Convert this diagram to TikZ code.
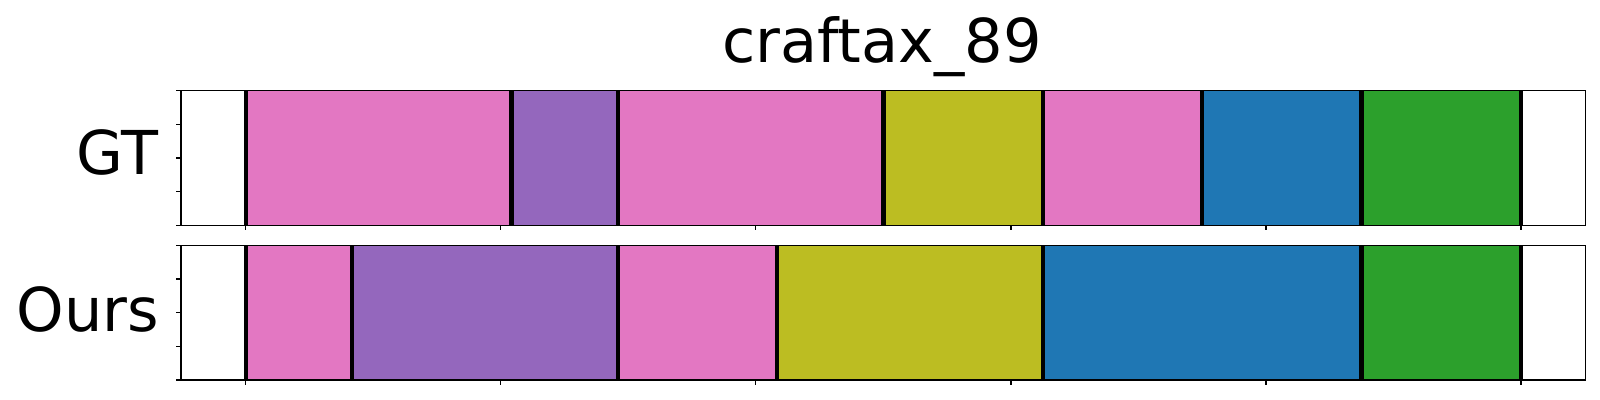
\documentclass[tikz,border=0pt]{standalone}
\usepackage{fontspec}
\setmainfont{DejaVu Sans}
\definecolor{tabpink}{HTML}{E377C2}
\definecolor{tabpurple}{HTML}{9467BD}
\definecolor{tabolive}{HTML}{BCBD22}
\definecolor{tabblue}{HTML}{1F77B4}
\definecolor{tabgreen}{HTML}{2CA02C}

\begin{document}
\begin{tikzpicture}
            [x=0.01cm, y=-0.01cm, cut/.style={line width=1.25pt, black},
             frame/.style={line width=0.4pt, black}, tick/.style={line width=0.35pt, black}]
            \useasboundingbox (0, 0) rectangle (1600, 400);
            \node[anchor=base, inner sep=0pt, font=\fontsize{17.2}{20}\selectfont] (title) at (882, 62.3) {craftax\_89};
            \node[anchor=base east, inner sep=0pt, font=\fontsize{17.2}{20}\selectfont] (gt) at (159, 174) {GT};
            \node[anchor=base east, inner sep=0pt, font=\fontsize{17.2}{20}\selectfont] (ours) at (160, 331.7) {Ours};

            % GT segments
            \fill[tabpink] (245.7, 90.5) rectangle (511.4, 225.3);
            \fill[tabpurple] (511.4, 90.5) rectangle (617.7, 225.3);
            \fill[tabpink] (617.7, 90.5) rectangle (883.4, 225.3);
            \fill[tabolive] (883.4, 90.5) rectangle (1042.8, 225.3);
            \fill[tabpink] (1042.8, 90.5) rectangle (1202.2, 225.3);
            \fill[tabblue] (1202.2, 90.5) rectangle (1361.6, 225.3);
            \fill[tabgreen] (1361.6, 90.5) rectangle (1521, 225.3);
            \draw[cut] (245.7, 90.5) -- (245.7, 225.3);
            \draw[cut] (511.4, 90.5) -- (511.4, 225.3);
            \draw[cut] (617.7, 90.5) -- (617.7, 225.3);
            \draw[cut] (883.4, 90.5) -- (883.4, 225.3);
            \draw[cut] (1042.8, 90.5) -- (1042.8, 225.3);
            \draw[cut] (1202.2, 90.5) -- (1202.2, 225.3);
            \draw[cut] (1361.6, 90.5) -- (1361.6, 225.3);
            \draw[cut] (1521, 90.5) -- (1521, 225.3);

            % Ours segments
            \fill[tabpink] (245.7, 245.3) rectangle (352, 380);
            \fill[tabpurple] (352, 245.3) rectangle (617.7, 380);
            \fill[tabpink] (617.7, 245.3) rectangle (777.1, 380);
            \fill[tabolive] (777.1, 245.3) rectangle (1042.8, 380);
            \fill[tabblue] (1042.8, 245.3) rectangle (1361.6, 380);
            \fill[tabgreen] (1361.6, 245.3) rectangle (1521, 380);
            \draw[cut] (245.7, 245.3) -- (245.7, 380);
            \draw[cut] (352, 245.3) -- (352, 380);
            \draw[cut] (617.7, 245.3) -- (617.7, 380);
            \draw[cut] (777.1, 245.3) -- (777.1, 380);
            \draw[cut] (1042.8, 245.3) -- (1042.8, 380);
            \draw[cut] (1361.6, 245.3) -- (1361.6, 380);
            \draw[cut] (1521, 245.3) -- (1521, 380);

            % frames
            \draw[frame] (181, 90.5) rectangle (1585.7, 225.3);
            \draw[frame] (181, 245.3) rectangle (1585.7, 380);

            % ticks
            \draw[tick] (176, 90.5) -- (181, 90.5);
            \draw[tick] (176, 124.2) -- (181, 124.2);
            \draw[tick] (176, 157.9) -- (181, 157.9);
            \draw[tick] (176, 191.6) -- (181, 191.6);
            \draw[tick] (176, 225.3) -- (181, 225.3);
            \draw[tick] (176, 245.3) -- (181, 245.3);
            \draw[tick] (176, 279) -- (181, 279);
            \draw[tick] (176, 312.7) -- (181, 312.7);
            \draw[tick] (176, 346.3) -- (181, 346.3);
            \draw[tick] (176, 380) -- (181, 380);
            \draw[tick] (245.7, 225.3) -- (245.7, 230.3);
            \draw[tick] (500.8, 225.3) -- (500.8, 230.3);
            \draw[tick] (755.8, 225.3) -- (755.8, 230.3);
            \draw[tick] (1010.9, 225.3) -- (1010.9, 230.3);
            \draw[tick] (1265.9, 225.3) -- (1265.9, 230.3);
            \draw[tick] (1521, 225.3) -- (1521, 230.3);
            \draw[tick] (245.7, 380) -- (245.7, 385);
            \draw[tick] (500.8, 380) -- (500.8, 385);
            \draw[tick] (755.8, 380) -- (755.8, 385);
            \draw[tick] (1010.9, 380) -- (1010.9, 385);
            \draw[tick] (1265.9, 380) -- (1265.9, 385);
            \draw[tick] (1521, 380) -- (1521, 385);
        \end{tikzpicture}
\end{document}
